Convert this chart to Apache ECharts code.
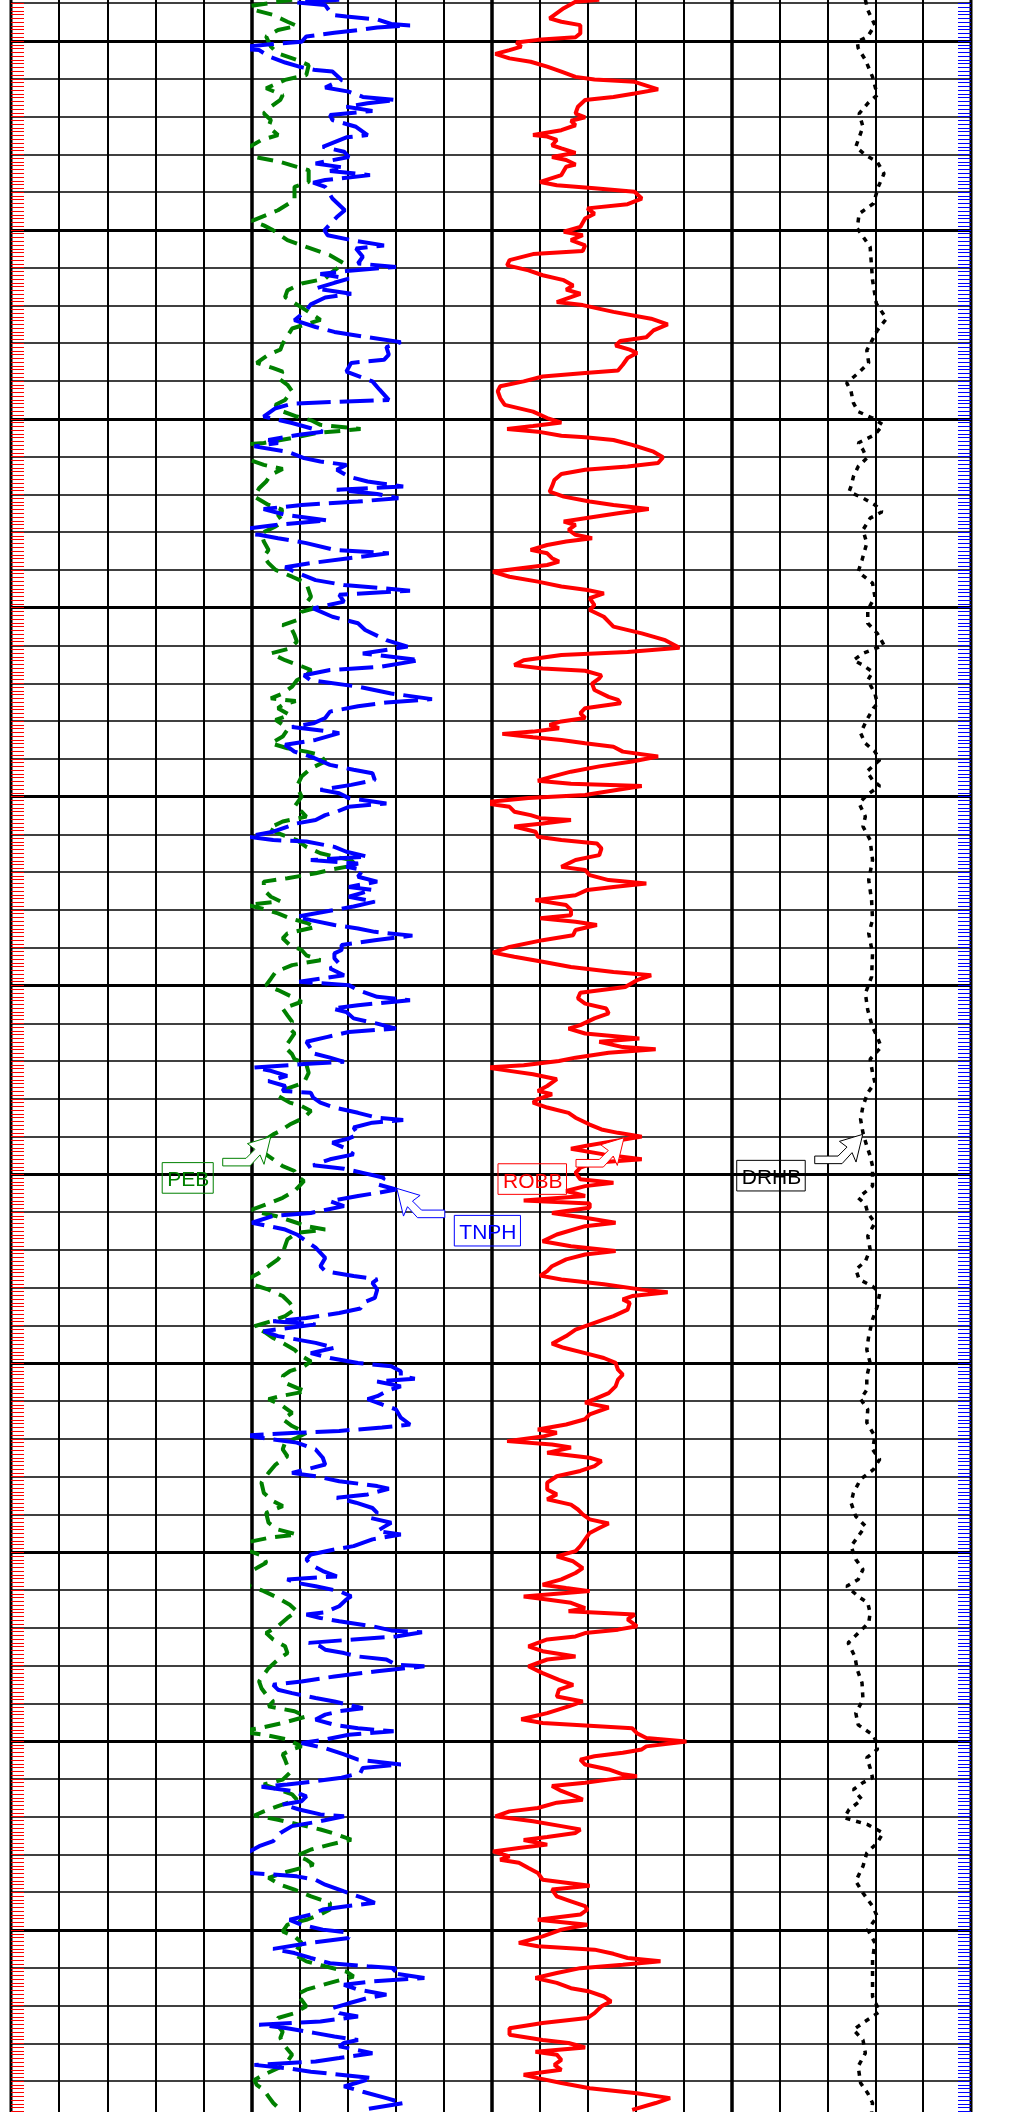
<!DOCTYPE html>
<html><head><meta charset="utf-8">
<script src="https://cdn.jsdelivr.net/npm/echarts@6/dist/echarts.min.js"></script>
<style>html,body{margin:0;padding:0;background:#fff}#c{width:1020px;height:2112px}</style>
</head><body><div id="c"></div>
<script>
// [depth, value] pairs
const TNPH = [[998.91,0.232],[998.98,0.338],[999.05,0.267],[999.31,0.249],[999.35,0.214],[999.43,0.137],[999.55,0.102],[999.59,0.055],[999.64,0.137],[999.71,0.185],[999.78,0.244],[999.88,0.314],[1000.02,0.326],[1000.08,0.397],[1000.19,0.503],[1000.24,0.432],[1000.40,0.409],[1000.57,0.367],[1000.68,0.332],[1000.77,0.291],[1000.81,0.249],[1001.03,0.226],[1001.23,0.267],[1001.34,0.208],[1001.48,0.173],[1001.56,0.090],[1001.65,0.161],[1001.74,0.214],[1001.85,0.149],[1001.96,0.255],[1002.09,0.249],[1002.27,0.190],[1002.49,0.161],[1002.55,0.214],[1002.80,0.273],[1002.93,0.220],[1003.07,0.208],[1003.24,0.291],[1003.35,0.220],[1003.44,0.255],[1003.55,0.155],[1003.68,0.267],[1003.75,0.297],[1003.86,0.267],[1004.17,0.249],[1004.48,0.218],[1004.66,0.238],[1005.01,0.269],[1005.14,0.261],[1005.27,0.202],[1005.41,0.120],[1005.49,0.190],[1005.71,0.173],[1005.89,0.185],[1005.98,0.090],[1006.09,0.214],[1006.17,0.279],[1006.29,0.208],[1006.40,0.244],[1006.55,0.291],[1006.69,0.202],[1006.79,0.267],[1006.97,0.303],[1007.13,0.314],[1007.39,0.344],[1007.57,0.291],[1007.70,0.244],[1007.84,0.161],[1007.97,0.078],[1008.10,0.114],
[1008.30,0.108],[1008.44,0.120],[1008.52,0.202],[1008.75,0.214],[1009.01,0.149],[1009.23,0.131],[1009.50,0.108],[1009.54,0.214],[1009.60,0.350],[1009.72,0.391],[1009.94,0.421],[1010.11,0.350],[1010.25,0.303],[1010.34,0.273],[1010.42,0.332],[1010.56,0.409],[1010.64,0.385],[1010.73,0.444],[1010.87,0.362],[1011.04,0.320],[1011.13,0.279],[1011.22,0.214],[1011.35,0.238],[1011.53,0.208],[1011.66,0.161],[1011.79,0.072],[1011.88,0.238],[1011.99,0.137],[1012.10,0.084],[1012.19,0.185],[1012.28,0.326],[1012.39,0.421],[1012.54,0.367],[1012.69,0.261],[1012.81,0.391],[1012.99,0.521],[1013.07,0.432],[1013.16,0.385],[1013.29,0.314],[1013.47,0.244],[1013.56,0.108],[1013.69,0.208],[1013.82,0.303],[1013.93,0.367],[1014.07,0.338],[1014.27,0.291],[1014.40,0.220],[1014.49,0.114],[1014.55,0.055],[1014.66,0.232],[1014.84,0.220],[1015.02,0.297],[1015.24,0.249],[1015.41,0.185],[1015.59,0.167],[1015.86,0.114],[1016.03,0.061],[1016.21,0.173],[1016.39,0.031],[1016.56,0.126],[1016.65,0.255],[1016.79,0.320],[1016.92,0.303],[1017.09,0.185],[1017.27,0.102],[1017.42,0.000],
[1017.51,0.114],[1017.61,0.185],[1017.75,0.255],[1017.92,0.267],[1018.06,0.297],[1018.16,0.350],[1018.28,0.255],[1018.32,0.232],[1018.50,0.291],[1018.63,0.367],[1018.81,0.344],[1018.94,0.303],[1019.16,0.255],[1019.29,0.196],[1019.38,0.149],[1019.56,0.143],[1019.69,0.202],[1019.82,0.279],[1019.91,0.232],[1020.04,0.208],[1020.18,0.114],[1020.27,0.208],[1020.40,0.238],[1020.49,0.267],[1020.62,0.291],[1020.71,0.338],[1020.93,0.397],[1021.06,0.462],[1021.15,0.397],[1021.19,0.314],[1021.33,0.244],[1021.46,0.214],[1021.59,0.161],[1021.68,0.303],[1021.77,0.185],[1021.86,0.214],[1021.94,0.173],[1022.12,0.185],[1022.25,0.137],[1022.39,0.208],[1022.47,0.149],[1022.65,0.208],[1022.78,0.143],[1022.91,0.196],[1023.02,0.255],[1023.18,0.338],[1023.27,0.303],[1023.40,0.244],[1023.49,0.185],[1023.58,0.143],[1023.68,0.049],[1023.80,0.143],[1023.93,0.226],[1024.06,0.226],[1024.15,0.244],[1024.28,0.244],[1024.42,0.232],[1024.55,0.255],[1024.73,0.220],[1024.90,0.332],[1024.99,0.208],[1025.12,0.185],[1025.30,0.137],[1025.39,0.055],[1025.52,0.185],[1025.61,0.249],[1025.70,0.214],[1025.87,0.196],[1026.01,0.137],[1026.14,0.090],[1026.23,0.208],[1026.36,0.261],[1026.49,0.314],[1026.67,0.303],
[1026.78,0.303],[1026.91,0.255],[1027.02,0.220],[1027.08,0.320],[1027.17,0.444],[1027.26,0.403],[1027.39,0.362],[1027.53,0.409],[1027.66,0.367],[1027.79,0.373],[1027.84,0.303],[1027.97,0.297],[1028.10,0.279],[1028.23,0.244],[1028.37,0.185],[1028.50,0.137],[1028.56,0.072],[1028.63,0.149],[1028.76,0.196],[1028.94,0.185],[1029.05,0.208],[1029.16,0.249],[1029.29,0.220],[1029.47,0.196],[1029.60,0.255],[1029.76,0.297],[1029.85,0.220],[1029.96,0.173],[1030.09,0.120],[1030.20,0.126],[1030.26,0.137],[1030.40,0.090],[1030.49,0.137],[1030.57,0.185],[1030.71,0.255],[1030.84,0.220],[1031.02,0.303],[1031.10,0.397],[1031.28,0.450],[1031.46,0.367],[1031.59,0.338],[1031.77,0.314],[1031.94,0.291],[1032.21,0.267],[1032.43,0.279],[1032.56,0.267],[1032.69,0.196],[1032.78,0.137],[1032.87,0.149],[1033.05,0.137],[1033.27,0.143],[1033.40,0.173],[1033.55,0.179],[1033.67,0.232],[1033.80,0.314],[1033.89,0.397],[1033.97,0.291],[1034.15,0.421],[1034.28,0.385],[1034.46,0.291],[1034.59,0.244],[1034.73,0.303],[1034.86,0.255],[1034.99,0.185],[1035.08,0.102],[1035.21,0.078],[1035.33,0.078],[1035.41,0.043],[1035.48,0.137],[1035.61,0.078],[1035.74,0.114],[1035.87,0.137],
[1035.95,0.161],[1036.09,0.125],[1036.22,0.090],[1036.44,0.078],[1036.62,0.055],[1036.70,0.125],[1036.79,0.232],[1036.84,0.338],[1036.91,0.462],[1037.00,0.409],[1037.10,0.338],[1037.28,0.291],[1037.50,0.273],[1037.68,0.267],[1037.81,0.314],[1037.90,0.350],[1037.99,0.291],[1038.12,0.232],[1038.25,0.137],[1038.32,0.108],[1038.47,0.161],[1038.56,0.238],[1038.69,0.190],[1038.83,0.149],[1038.96,0.137],[1039.09,0.155],[1039.22,0.102],[1039.33,0.120],[1039.44,0.137],[1039.53,0.078],[1039.66,0.149],[1039.84,0.196],[1039.93,0.244],[1040.06,0.303],[1040.19,0.314],[1040.33,0.303],[1040.50,0.273],[1040.64,0.238],[1040.72,0.362],[1040.81,0.338],[1040.90,0.291],[1041.03,0.232],[1041.17,0.202],[1041.25,0.214],[1041.43,0.232],[1041.59,0.267],[1041.65,0.314],[1041.74,0.279],[1041.83,0.232],[1041.96,0.149],[1042.07,0.102],[1042.12,0.025],[1042.23,0.090],[1042.31,0.196],[1042.40,0.308],[1042.49,0.279],[1042.58,0.267],[1042.67,0.220],[1042.76,0.185],[1042.84,0.114],[1042.98,0.090],[1043.02,0.019],[1043.15,0.137],[1043.29,0.244],[1043.42,0.326],[1043.51,0.397],[1043.64,0.385],[1043.73,0.350],[1043.86,0.291],[1043.95,0.244],[1044.04,0.208],[1044.13,0.173],[1044.21,0.232],[1044.30,0.267],[1044.43,0.291],[1044.57,0.244],[1044.66,0.185],[1044.74,0.096],[1044.83,0.208],[1044.96,0.267],[1045.05,0.326],[1045.19,0.267],
[1045.35,0.220],[1045.49,0.185],[1045.62,0.078],[1045.71,0.173],[1045.84,0.179],[1045.97,0.226],[1046.06,0.291],[1046.15,0.362],[1046.21,0.426],[1046.32,0.350],[1046.46,0.314],[1046.59,0.326],[1046.68,0.373],[1046.81,0.332],[1046.94,0.279],[1046.99,0.220],[1047.12,0.279],[1047.25,0.350],[1047.43,0.379],[1047.65,0.397],[1047.78,0.432],[1047.92,0.456],[1048.09,0.485],[1048.22,0.539],[1048.33,0.603],[1048.42,0.503],[1048.49,0.456],[1048.53,0.397],[1048.58,0.338],[1048.67,0.291],[1048.80,0.267],[1048.98,0.220],[1049.15,0.173],[1049.28,0.143],[1049.37,0.214],[1049.46,0.273],[1049.59,0.303],[1049.73,0.356],[1049.86,0.326],[1049.99,0.273],[1050.06,0.214],[1050.21,0.208],[1050.34,0.303],[1050.50,0.397],[1050.61,0.344],[1050.74,0.303],[1050.88,0.255],[1050.96,0.161],[1051.01,0.090],[1051.14,0.102],[1051.27,0.019],[1051.36,0.149],[1051.45,0.220],[1051.58,0.185],[1051.71,0.114],[1051.80,0.161],[1051.94,0.208],[1052.07,0.249],[1052.20,0.232],[1052.29,0.185],[1052.42,0.279],[1052.51,0.432],[1052.60,0.362],[1052.73,0.291],[1052.82,0.244],[1052.91,0.185],[1052.99,0.220],[1053.08,0.232],[1053.26,0.149],[1053.39,0.232],[1053.48,0.291],[1053.57,0.444],[1053.66,0.362],[1053.75,0.303],[1053.92,0.149],[1054.05,0.190],[1054.14,0.220],[1054.28,0.173],[1054.45,0.114],[1054.58,0.072],[1054.76,0.173]];

const PEB = [[998.91,3.672],[999.07,1.941],[999.18,2.099],[999.31,2.885],[999.49,3.476],[999.60,3.869],[999.71,3.082],[999.88,2.590],[1000.02,2.689],[1000.15,2.787],[1000.33,3.082],[1000.50,3.869],[1000.64,4.361],[1000.90,4.262],[1001.03,3.377],[1001.25,2.590],[1001.43,3.279],[1001.56,3.180],[1001.74,2.787],[1001.92,2.492],[1002.09,2.787],[1002.27,2.689],[1002.49,3.082],[1002.62,2.394],[1002.80,1.902],[1002.93,1.312],[1003.07,2.099],[1003.20,3.180],[1003.33,3.869],[1003.42,4.361],[1003.73,4.361],[1003.86,3.771],[1004.21,3.771],[1004.48,3.082],[1004.76,2.000],[1004.88,2.492],[1005.01,2.885],[1005.27,3.476],[1005.45,4.262],[1005.67,5.246],[1005.89,5.836],[1006.11,5.344],[1006.29,5.049],[1006.42,4.066],[1006.60,3.476],[1006.78,3.377],[1007.13,4.262],[1007.38,4.852],[1007.61,3.672],[1008.01,3.279],
[1008.17,3.180],[1008.30,2.689],[1008.52,2.197],[1008.66,2.885],[1008.75,3.279],[1008.92,3.082],[1009.10,3.476],[1009.27,3.672],[1009.50,3.377],[1009.63,2.984],[1009.76,3.082],[1009.94,3.869],[1010.04,4.459],[1010.16,4.852],[1010.27,6.524],[1010.38,4.656],[1010.51,3.672],[1010.64,2.492],[1010.72,0.820],[1010.82,1.312],[1010.95,1.509],[1011.09,1.902],[1011.22,2.492],[1011.33,3.279],[1011.48,2.787],[1011.66,2.590],[1011.84,2.295],[1012.06,2.099],[1012.28,2.689],[1012.41,3.279],[1012.54,3.082],[1012.72,3.279],[1012.85,2.984],[1013.03,2.394],[1013.25,2.492],[1013.47,2.689],[1013.65,2.492],[1013.82,2.689],[1014.00,2.984],[1014.18,3.672],[1014.35,4.262],[1014.71,4.459],[1014.88,4.262],[1015.02,4.557],[1015.11,4.066],[1015.33,3.869],[1015.46,3.279],[1015.59,3.672],[1015.72,3.771],[1015.90,3.869],[1016.08,3.574],[1016.21,2.787],[1016.39,3.377],[1016.55,4.066],[1016.65,4.459],[1016.79,4.262],[1016.92,3.869],[1017.09,3.672],[1017.27,3.279],[1017.40,2.787],
[1017.47,3.820],[1017.57,3.279],[1017.66,3.082],[1017.84,3.574],[1017.97,2.984],[1018.10,3.279],[1018.23,3.476],[1018.41,3.279],[1018.59,2.787],[1018.72,3.476],[1018.81,4.262],[1018.90,4.852],[1019.07,5.049],[1019.25,4.459],[1019.47,4.066],[1019.73,3.869],[1020.00,4.066],[1020.27,3.771],[1020.40,4.066],[1020.53,4.262],[1020.66,3.279],[1020.84,2.689],[1020.97,3.082],[1021.15,3.869],[1021.33,4.262],[1021.50,4.852],[1021.59,5.443],[1021.68,6.131],[1021.81,6.328],[1021.94,5.246],[1022.03,4.656],[1022.16,3.476],[1022.25,2.492],[1022.47,2.492],[1022.65,2.787],[1022.77,3.180],[1022.87,1.804],[1022.96,2.394],[1023.09,3.082],[1023.22,3.574],[1023.34,4.262],[1023.45,4.656],[1023.62,3.476],[1023.75,3.279],[1023.93,3.574],[1024.06,4.066],[1024.20,4.262],[1024.33,4.852],[1024.46,3.672],[1024.64,2.984],[1024.82,2.787],[1024.99,2.590],[1025.12,3.082],[1025.30,3.672],[1025.43,4.066],[1025.61,3.279],[1025.79,3.476],[1025.96,3.672],[1026.14,3.574],[1026.27,3.771],[1026.45,3.574],[1026.63,3.377],
[1026.82,3.672],[1026.95,3.771],[1027.08,4.262],[1027.31,4.361],[1027.57,4.164],[1027.75,3.377],[1027.92,3.082],[1028.10,3.574],[1028.19,4.066],[1028.32,4.459],[1028.50,4.164],[1028.68,3.574],[1028.85,3.180],[1028.94,2.885],[1029.07,2.590],[1029.25,2.394],[1029.43,2.492],[1029.60,2.885],[1029.78,3.279],[1029.91,3.771],[1030.04,3.869],[1030.18,4.164],[1030.31,3.967],[1030.44,3.771],[1030.62,3.279],[1030.77,2.689],[1030.93,2.000],[1031.02,2.394],[1031.10,2.984],[1031.24,3.672],[1031.37,4.262],[1031.46,5.049],[1031.55,3.869],[1031.72,3.476],[1031.90,3.377],[1032.08,3.279],[1032.25,3.082],[1032.43,2.689],[1032.61,2.295],[1032.78,1.804],[1032.91,2.000],[1033.05,2.689],[1033.22,3.279],[1033.40,3.574],[1033.58,3.771],[1033.75,3.377],[1033.89,2.787],[1034.02,2.099],[1034.20,2.590],[1034.33,2.885],[1034.46,3.279],[1034.64,3.771],[1034.77,3.967],[1034.95,4.459],[1035.08,4.164],[1035.21,3.574],[1035.34,3.279],[1035.52,3.377],[1035.65,3.869],[1035.74,4.262],[1035.87,3.180],
[1035.95,2.689],[1036.13,3.279],[1036.31,3.672],[1036.48,3.279],[1036.66,3.672],[1036.84,4.262],[1036.97,3.869],[1037.10,3.377],[1037.28,3.279],[1037.46,3.476],[1037.68,2.984],[1037.90,2.689],[1038.16,2.394],[1038.43,2.492],[1038.65,2.885],[1038.78,3.279],[1038.96,2.590],[1039.22,2.689],[1039.40,3.082],[1039.53,3.869],[1039.62,2.689],[1039.75,1.705],[1039.84,1.115],[1039.97,1.902],[1040.11,2.492],[1040.28,2.590],[1040.42,2.197],[1040.55,1.804],[1040.72,1.705],[1040.90,1.902],[1041.03,2.492],[1041.21,3.082],[1041.39,3.574],[1041.56,3.869],[1041.74,3.476],[1041.96,3.082],[1042.14,2.590],[1042.31,2.885],[1042.49,3.377],[1042.67,3.476],[1042.84,3.082],[1043.07,2.689],[1043.24,2.492],[1043.42,2.295],[1043.60,2.394],[1043.77,2.590],[1043.95,2.885],[1044.08,2.689],[1044.21,3.771],[1044.35,4.262],[1044.52,3.279],[1044.66,2.295],[1044.74,1.410],[1044.83,2.492],[1044.96,3.476],[1045.14,4.066],
[1045.22,3.672],[1045.35,3.279],[1045.49,3.377],[1045.66,3.476],[1045.84,3.574],[1046.02,3.279],[1046.15,2.492],[1046.28,3.082],[1046.41,3.672],[1046.55,3.869],[1046.72,3.082],[1046.86,2.492],[1046.97,2.099],[1047.08,3.082],[1047.21,3.967],[1047.34,4.852],[1047.47,5.541],[1047.61,6.131],[1047.74,5.246],[1047.87,4.459],[1048.03,3.869],[1048.14,4.262],[1048.27,4.557],[1048.49,3.279],[1048.62,2.689],[1048.80,3.180],[1048.93,3.771],[1049.11,4.459],[1049.28,5.246],[1049.46,5.246],[1049.59,4.852],[1049.73,4.262],[1049.86,3.476],[1050.04,3.279],[1050.17,3.771],[1050.34,4.066],[1050.52,3.869],[1050.65,3.771],[1050.83,4.262],[1050.96,5.049],[1051.10,5.934],[1051.23,6.229],[1051.40,5.246],[1051.58,4.262],[1051.71,3.869],[1051.85,4.066],[1052.02,4.262],[1052.20,3.771],[1052.33,3.082],[1052.46,2.984],[1052.69,3.279],[1052.86,3.180],[1053.08,3.377],[1053.30,3.672],[1053.48,3.476],[1053.66,3.082],[1053.83,2.492],[1053.97,2.099],[1054.10,2.197],[1054.23,2.492],[1054.41,2.689],[1054.58,2.885],[1054.76,3.180]];

const ROBB = [[998.91,2.397],[998.96,2.298],[999.13,2.249],[999.40,2.190],[999.49,2.239],[999.58,2.318],[999.80,2.318],[999.90,2.298],[999.97,2.141],[1000.04,2.052],[1000.15,2.072],[1000.24,2.023],[1000.34,1.964],[1000.46,2.023],[1000.55,2.111],[1000.68,2.180],[1000.81,2.239],[1000.95,2.298],[1001.02,2.377],[1001.08,2.544],[1001.28,2.642],[1001.39,2.544],[1001.48,2.456],[1001.56,2.338],[1001.74,2.308],[1001.92,2.298],[1002.02,2.338],[1002.11,2.279],[1002.23,2.298],[1002.36,2.239],[1002.49,2.121],[1002.53,2.180],[1002.62,2.220],[1002.76,2.200],[1002.84,2.239],[1002.96,2.298],[1003.07,2.200],[1003.15,2.259],[1003.27,2.298],[1003.33,2.259],[1003.55,2.239],[1003.73,2.151],[1003.82,2.220],[1003.90,2.377],[1003.99,2.544],[1004.17,2.574],[1004.32,2.515],[1004.43,2.347],[1004.57,2.377],[1004.70,2.338],[1004.92,2.318],[1005.05,2.249],[1005.14,2.328],[1005.27,2.279],[1005.41,2.338],[1005.56,2.328],[1005.64,2.121],[1005.80,2.023],[1005.94,2.013],[1006.07,2.102],[1006.20,2.161],[1006.33,2.249],[1006.47,2.288],[1006.58,2.259],[1006.69,2.318],[1006.78,2.279],[1006.91,2.220],[1006.99,2.328],[1007.17,2.456],[1007.35,2.613],[1007.50,2.682],[1007.66,2.623],[1007.84,2.593],[1007.94,2.485],[1008.06,2.465],
[1008.17,2.524],[1008.26,2.554],[1008.39,2.515],[1008.57,2.495],[1008.72,2.475],[1008.79,2.338],[1008.88,2.161],[1009.01,2.082],[1009.14,1.984],[1009.27,1.974],[1009.45,1.984],[1009.63,2.003],[1009.81,2.121],[1009.98,2.180],[1010.10,2.239],[1010.19,2.121],[1010.27,2.013],[1010.34,2.141],[1010.45,2.239],[1010.49,2.338],[1010.56,2.456],[1010.69,2.534],[1010.87,2.623],[1011.02,2.662],[1011.17,2.642],[1011.26,2.515],[1011.35,2.338],[1011.46,2.239],[1011.62,2.210],[1011.79,2.200],[1011.93,2.190],[1012.06,2.249],[1012.19,2.357],[1012.28,2.456],[1012.39,2.603],[1012.50,2.475],[1012.63,2.338],[1012.72,2.249],[1012.81,2.298],[1012.94,2.269],[1013.07,2.298],[1013.16,2.367],[1013.25,2.259],[1013.34,2.180],[1013.47,2.111],[1013.56,2.180],[1013.69,2.200],[1013.78,2.229],[1013.87,2.180],[1013.96,2.062],[1014.05,1.954],[1014.18,2.023],[1014.31,2.141],[1014.44,2.239],[1014.53,2.347],[1014.62,2.416],[1014.75,2.357],[1014.93,2.377],[1015.06,2.357],[1015.24,2.416],[1015.50,2.456],[1015.68,2.574],[1015.86,2.672],[1016.06,2.731],[1016.17,2.515],[1016.25,2.239],[1016.39,2.082],[1016.52,2.043],[1016.61,2.161],[1016.67,2.338],[1016.79,2.406],[1016.87,2.397],[1017.01,2.367],[1017.18,2.377],[1017.36,2.436],
[1017.44,2.475],[1017.53,2.485],[1017.66,2.338],[1017.79,2.318],[1017.92,2.338],[1018.01,2.239],[1018.10,2.190],[1018.19,2.229],[1018.28,2.121],[1018.34,1.993],[1018.43,2.121],[1018.50,2.239],[1018.59,2.338],[1018.68,2.456],[1018.81,2.495],[1018.94,2.642],[1019.07,2.534],[1019.20,2.397],[1019.34,2.279],[1019.47,2.200],[1019.58,2.141],[1019.66,2.279],[1019.72,2.574],[1019.82,2.475],[1019.96,2.338],[1020.04,2.102],[1020.16,1.905],[1020.27,2.023],[1020.40,2.043],[1020.49,2.111],[1020.57,2.151],[1020.62,2.279],[1020.71,2.161],[1020.79,2.043],[1020.93,2.131],[1021.06,2.141],[1021.15,2.239],[1021.24,2.387],[1021.37,2.406],[1021.55,2.397],[1021.68,2.298],[1021.86,2.239],[1021.94,2.338],[1022.08,2.357],[1022.21,2.436],[1022.30,2.593],[1022.39,2.456],[1022.47,2.347],[1022.61,2.298],[1022.74,2.131],[1022.87,2.259],[1023.00,2.279],[1023.14,2.279],[1023.22,2.151],[1023.31,2.298],[1023.40,2.387],[1023.53,2.298],[1023.67,2.288],[1023.80,2.161],[1023.98,2.023],[1024.13,1.954],[1024.24,2.043],[1024.37,2.161],[1024.51,2.279],[1024.64,2.456],[1024.73,2.613],[1024.86,2.554],[1025.04,2.505],[1025.19,2.318],[1025.34,2.308],[1025.48,2.338],[1025.61,2.426],[1025.74,2.436],[1025.87,2.377],[1026.05,2.318],[1026.14,2.269],[1026.27,2.338],[1026.40,2.564],[1026.49,2.397],[1026.63,2.495],
[1026.69,2.632],[1026.78,2.436],[1026.91,2.298],[1027.00,2.229],[1027.11,2.082],[1027.17,1.925],[1027.26,2.023],[1027.35,2.121],[1027.48,2.220],[1027.66,2.180],[1027.79,2.141],[1027.88,2.200],[1028.01,2.141],[1028.10,2.121],[1028.23,2.180],[1028.37,2.269],[1028.50,2.298],[1028.68,2.357],[1028.81,2.406],[1028.90,2.475],[1029.00,2.574],[1029.12,2.456],[1029.25,2.338],[1029.32,2.279],[1029.47,2.416],[1029.60,2.574],[1029.69,2.377],[1029.82,2.318],[1029.96,2.298],[1030.13,2.318],[1030.22,2.456],[1030.31,2.338],[1030.44,2.259],[1030.57,2.338],[1030.69,2.082],[1030.77,2.357],[1030.88,2.357],[1031.02,2.200],[1031.15,2.338],[1031.28,2.465],[1031.37,2.338],[1031.59,2.220],[1031.77,2.161],[1031.90,2.279],[1032.03,2.465],[1032.12,2.338],[1032.25,2.259],[1032.43,2.200],[1032.56,2.180],[1032.68,2.151],[1032.78,2.239],[1032.91,2.416],[1033.05,2.574],[1033.12,2.682],[1033.22,2.534],[1033.31,2.495],[1033.40,2.524],[1033.58,2.515],[1033.75,2.456],[1033.93,2.377],[1034.11,2.298],[1034.28,2.259],[1034.48,2.200],[1034.59,2.249],[1034.73,2.338],[1034.86,2.416],[1034.99,2.465],[1035.17,2.475],[1035.30,2.495],[1035.43,2.475],[1035.61,2.465],[1035.79,2.436],
[1035.95,2.377],[1036.04,2.338],[1036.17,2.436],[1036.35,2.357],[1036.48,2.338],[1036.62,2.259],[1036.75,2.141],[1036.84,2.220],[1036.94,2.161],[1037.06,2.013],[1037.15,2.200],[1037.23,2.279],[1037.37,2.180],[1037.50,2.357],[1037.59,2.406],[1037.72,2.377],[1037.85,2.318],[1037.99,2.220],[1038.16,2.180],[1038.34,2.180],[1038.47,2.220],[1038.60,2.180],[1038.74,2.279],[1038.87,2.308],[1039.00,2.328],[1039.13,2.357],[1039.24,2.436],[1039.36,2.397],[1039.49,2.357],[1039.66,2.338],[1039.84,2.318],[1039.97,2.298],[1040.11,2.220],[1040.24,2.288],[1040.42,2.328],[1040.55,2.298],[1040.72,2.239],[1040.86,2.161],[1040.95,2.259],[1041.03,2.357],[1041.17,2.082],[1041.25,2.180],[1041.34,2.279],[1041.48,2.338],[1041.56,2.269],[1041.65,2.544],[1041.78,2.515],[1041.96,2.554],[1042.05,2.475],[1042.14,2.338],[1042.23,2.298],[1042.31,2.180],[1042.49,2.102],[1042.62,2.161],[1042.76,2.298],[1042.84,2.180],[1043.02,2.102],[1043.20,2.161],[1043.38,2.229],[1043.51,2.288],[1043.64,2.229],[1043.82,2.220],[1043.95,2.328],[1044.08,2.269],[1044.26,2.180],[1044.42,2.072],[1044.52,2.161],[1044.66,2.534],[1044.79,2.554],[1044.92,2.593],[1045.01,2.760],[1045.14,2.593],
[1045.22,2.574],[1045.31,2.495],[1045.40,2.377],[1045.49,2.318],[1045.62,2.338],[1045.75,2.436],[1045.88,2.495],[1045.93,2.554],[1046.02,2.436],[1046.10,2.338],[1046.19,2.200],[1046.32,2.239],[1046.46,2.298],[1046.55,2.328],[1046.63,2.220],[1046.77,2.141],[1046.86,2.023],[1046.99,1.964],[1047.12,2.121],[1047.25,2.239],[1047.34,2.318],[1047.43,2.298],[1047.54,2.180],[1047.62,2.082],[1047.74,2.180],[1047.83,2.062],[1047.92,1.954],[1048.05,2.023],[1048.14,1.984],[1048.22,2.062],[1048.36,2.102],[1048.49,2.141],[1048.67,2.161],[1048.75,2.259],[1048.83,2.357],[1048.93,2.200],[1049.11,2.220],[1049.24,2.279],[1049.37,2.338],[1049.46,2.347],[1049.59,2.318],[1049.73,2.141],[1049.86,2.347],[1049.99,2.239],[1050.17,2.161],[1050.34,2.062],[1050.43,2.141],[1050.52,2.377],[1050.63,2.456],[1050.74,2.515],[1050.83,2.652],[1050.92,2.495],[1051.01,2.318],[1051.14,2.220],[1051.27,2.131],[1051.40,2.220],[1051.54,2.279],[1051.63,2.357],[1051.76,2.416],[1051.89,2.446],[1052.02,2.406],[1052.20,2.377],[1052.33,2.347],[1052.46,2.161],[1052.60,2.023],[1052.77,2.023],[1052.91,2.161],[1052.99,2.269],[1053.11,2.338],[1053.22,2.131],[1053.30,2.220],[1053.44,2.239],[1053.57,2.210],[1053.70,2.239],[1053.83,2.082],[1053.92,2.141],[1054.05,2.239],[1054.19,2.357],[1054.32,2.554],[1054.45,2.692],[1054.58,2.632],[1054.76,2.534]];

const DRHB = [[998.91,0.029],[999.18,0.034],[999.58,0.049],[999.88,0.034],[1000.02,0.012],[1000.19,0.014],[1000.50,0.029],[1000.95,0.044],[1001.43,0.054],[1001.65,0.034],[1001.92,0.016],[1002.27,0.024],[1002.80,0.009],[1003.02,0.029],[1003.20,0.054],[1003.51,0.068],[1003.86,0.056],[1004.30,0.046],[1004.57,0.016],[1004.96,0.012],[1005.45,0.039],[1006.33,0.044],[1006.95,0.052],[1007.35,0.073],[1007.66,0.054],[1008.19,0.032],[1008.52,0.036],[1008.79,0.014],[1009.05,-0.010],[1009.27,-0.001],[1009.58,0.004],[1009.81,0.014],[1009.98,0.044],[1010.16,0.066],[1010.42,0.049],[1010.64,0.014],[1010.82,0.024],[1011.04,0.032],[1011.26,0.014],[1011.53,0.004],[1011.79,-0.001],[1011.93,-0.005],[1012.10,0.024],[1012.28,0.049],[1012.46,0.064],[1012.63,0.039],[1012.94,0.024],[1013.29,0.032],[1013.74,0.022],[1014.05,0.014],[1014.35,0.044],[1014.71,0.049],[1015.06,0.034],[1015.41,0.034],[1015.68,0.054],[1015.99,0.068],[1016.21,0.024],[1016.39,0.004],[1016.52,0.024],[1016.70,0.044],[1016.92,0.034],[1017.27,0.049],[1017.54,0.054],[1017.66,0.046],[1017.97,0.032],[1018.32,0.019],[1018.59,0.029],[1018.81,0.049],[1019.03,0.059],[1019.34,0.032],[1019.56,0.044],[1019.72,0.059],[1019.96,0.032],[1020.18,0.016],[1020.53,0.029],[1020.79,0.024],[1021.15,0.039],[1021.68,0.044],[1022.21,0.036],[1022.74,0.042],[1023.27,0.044],[1023.62,0.036],[1024.15,0.044],[1024.77,0.042],[1025.21,0.029],[1025.65,0.034],[1026.10,0.044],[1026.36,0.054],[1026.63,0.062],[1026.95,0.039],[1027.31,0.044],[1027.57,0.049],[1027.84,0.034],[1028.19,0.024],[1028.54,0.019],[1028.90,0.024],[1029.25,0.032],[1029.51,0.039],[1029.78,0.044],[1030.04,0.044],[1030.31,0.044],[1030.62,0.014],[1030.79,0.029],[1031.02,0.034],[1031.28,0.049],[1031.63,0.034],[1031.99,0.039],[1032.30,0.029],[1032.52,0.009],[1032.78,0.016],[1032.96,0.044],[1033.14,0.059],[1033.49,0.054],[1033.84,0.044],[1034.28,0.036],[1034.64,0.032],[1034.99,0.039],[1035.34,0.032],[1035.70,0.032],[1035.95,0.019],[1036.22,0.034],[1036.57,0.032],[1036.93,0.049],[1037.28,0.044],[1037.54,0.059],[1037.81,0.046],[1038.07,0.019],[1038.43,0.004],[1038.69,-0.001],[1039.05,0.009],[1039.31,0.029],[1039.58,0.014],[1039.84,-0.001],[1040.19,0.009],[1040.46,0.024],[1040.72,0.014],[1040.90,-0.010],[1041.17,0.014],[1041.34,0.034],[1041.61,0.039],[1041.87,0.036],[1042.14,0.014],[1042.40,-0.007],[1042.76,0.007],[1043.11,0.012],[1043.46,0.022],[1043.90,0.024],[1044.26,0.009],[1044.57,0.014],[1044.83,0.044],[1045.05,0.054],[1045.22,0.054],[1045.44,0.032],[1045.71,0.039],[1045.97,0.044],[1046.10,0.024],[1046.28,0.004],[1046.55,0.022],[1046.81,-0.005],[1047.03,-0.015],[1047.21,0.034],[1047.43,0.066],[1047.69,0.054],[1047.96,0.032],[1048.31,0.024],[1048.71,0.009],[1049.02,0.024],[1049.37,0.044],[1049.64,0.054],[1049.99,0.034],[1050.34,0.049],[1050.79,0.044],[1051.23,0.044],[1051.76,0.044],[1052.16,0.059],[1052.46,0.024],[1052.64,0.004],[1052.91,0.024],[1053.26,0.029],[1053.61,0.014],[1054.05,0.019],[1054.32,0.034],[1054.58,0.044],[1054.81,0.042]];

// curve labels and the [depth, value] each callout arrow points at
const LABELS = ['PEB', 'TNPH', 'ROBB', 'DRHB'];
const LABEL_TIPS = [[1029.00, 2.78], [1030.37, 0.088], [1029.03, 2.50], [1028.94, 0.0235]];

// depth scale and track scales
const DEPTH_MIN = 995, DEPTH_MAX = 1060;
const TNPH_SCALE = [-0.15, 0.45], PEB_SCALE = [2, 12], ROBB_SCALE = [1.95, 2.95], DRHB_SCALE = [-0.25, 0.25];

const chart = echarts.init(document.getElementById('c'), null, {renderer: 'canvas', width: 1020, height: 2112});

const PX_PER_UNIT = 37.78;
const GRID_TOP = 41 - (1000 - DEPTH_MIN) * PX_PER_UNIT;
const GRID_H = (DEPTH_MAX - DEPTH_MIN) * PX_PER_UNIT;
const TRACKS = [{left: 11, width: 241}, {left: 252, width: 240}, {left: 492, width: 240}, {left: 732, width: 239}];

const grids = TRACKS.map(t => ({left: t.left, width: t.width, top: GRID_TOP, height: GRID_H, show: true,
  borderColor: '#000', borderWidth: 3, backgroundColor: 'transparent', containLabel: false, outerBoundsMode: 'none'}));

const frameX = gi => ({type: 'value', gridIndex: gi, min: 0, max: 5, interval: 1, position: 'top',
  axisLine: {show: false, onZero: false}, axisTick: {show: false}, axisLabel: {show: false},
  splitLine: {show: true, lineStyle: {color: '#000', width: 2}}});
const dataX = (gi, sc, inv) => ({type: 'value', gridIndex: gi, min: sc[0], max: sc[1], inverse: !!inv, show: false,
  axisLine: {show: false, onZero: false}, axisTick: {show: false}, axisLabel: {show: false}, splitLine: {show: false}});

const depthY = (gi, pos) => ({type: 'value', gridIndex: gi, inverse: true, min: DEPTH_MIN, max: DEPTH_MAX, interval: 5, position: pos,
  axisLine: {show: false, onZero: false}, axisTick: {show: false}, axisLabel: {show: false},
  splitLine: {show: true, lineStyle: {color: '#000', width: 3}},
  minorTick: {show: false, splitNumber: 5},
  minorSplitLine: {show: true, lineStyle: {color: '#000', width: 1.6}}});
const tickY = (gi, pos, color) => ({type: 'value', gridIndex: gi, inverse: true, min: DEPTH_MIN, max: DEPTH_MAX, interval: 1, position: pos,
  axisLine: {show: false, onZero: false}, axisLabel: {show: false}, splitLine: {show: false},
  axisTick: {show: true, inside: true, length: 13, lineStyle: {color: color, width: 1}},
  minorTick: {show: true, splitNumber: 10, length: 13, lineStyle: {color: color, width: 1}}});

const toXY = arr => arr.map(p => [p[1], p[0]]);

const option = {
  animation: false,
  backgroundColor: '#fff',
  grid: grids,
  xAxis: [frameX(0), frameX(1), frameX(2), frameX(3),
    dataX(1, TNPH_SCALE, true), dataX(1, PEB_SCALE), dataX(2, ROBB_SCALE), dataX(3, DRHB_SCALE)],
  yAxis: [depthY(0, 'right'), depthY(1, 'left'), depthY(2, 'left'), depthY(3, 'left'),
    tickY(0, 'left', '#ff0000'), tickY(3, 'right', '#0000ff')],
  series: [
    {type: 'line', name: 'PEB', xAxisIndex: 5, yAxisIndex: 1, data: toXY(PEB), symbol: 'none', clip: false, z: 3,
      lineStyle: {color: '#008000', width: 4, type: [16, 9]}},
    {type: 'line', name: 'TNPH', xAxisIndex: 4, yAxisIndex: 1, data: toXY(TNPH), symbol: 'none', clip: false, z: 4,
      lineStyle: {color: '#0000ff', width: 4, type: [34, 9]}},
    {type: 'line', name: 'ROBB', xAxisIndex: 6, yAxisIndex: 2, data: toXY(ROBB), symbol: 'none', clip: false, z: 4,
      lineStyle: {color: '#ff0000', width: 4}},
    {type: 'line', name: 'DRHB', xAxisIndex: 7, yAxisIndex: 3, data: toXY(DRHB), symbol: 'none', clip: false, z: 4,
      lineStyle: {color: '#000', width: 3.5, type: [5, 6]}}
  ]
};
chart.setOption(option);

// callout labels: box + hollow bent arrow pointing at the curve
const COLORS = ['#008000', '#0000ff', '#ff0000', '#000'];
const SIDE = [-1, 1, -1, -1];   // -1: box to the left of the tip, +1: to the right
const FONT = '21px "Liberation Sans", Arial, sans-serif';
const ARROW = [[-48, 29.3], [-48, 21.7], [-24.7, 21.7], [-15.7, 12.7], [-23.3, 7], [0, 0], [-6.7, 27.7], [-10.7, 18.3], [-20.7, 29.3]];
const mctx = document.createElement('canvas').getContext('2d');
mctx.font = FONT;
const elements = [];
LABELS.forEach((lab, i) => {
  const tip = chart.convertToPixel({seriesIndex: i}, [LABEL_TIPS[i][1], LABEL_TIPS[i][0]]);
  const s = SIDE[i];
  const arrowPts = ARROW.map(p => [tip[0] - s * p[0] * -1 * (s < 0 ? 1 : -1) * (s < 0 ? -1 : 1), tip[1] + p[1]]);
  const pts = s < 0 ? ARROW.map(p => [tip[0] + p[0], tip[1] + p[1]]) : ARROW.map(p => [tip[0] - p[0], tip[1] + p[1]]);
  elements.push({type: 'polygon', z: 50, shape: {points: pts},
    style: {fill: '#fff', stroke: COLORS[i], lineWidth: 1}});
  const tw = mctx.measureText(lab).width;
  const bw = tw + 9, bh = 30.6;
  const by = tip[1] + (s < 0 ? 26 : 27);
  const bx = s < 0 ? tip[0] - 57.5 - bw : tip[0] + 57.5;
  elements.push({type: 'rect', z: 50, shape: {x: bx, y: by, width: bw, height: bh},
    style: {fill: 'none', stroke: COLORS[i], lineWidth: 1}});
  elements.push({type: 'text', z: 51, x: bx + 5, y: by + 18,
    style: {text: lab, font: FONT, fill: COLORS[i], align: 'left', verticalAlign: 'middle'}});
});
chart.setOption({graphic: {elements: elements}});
</script>
</body></html>
